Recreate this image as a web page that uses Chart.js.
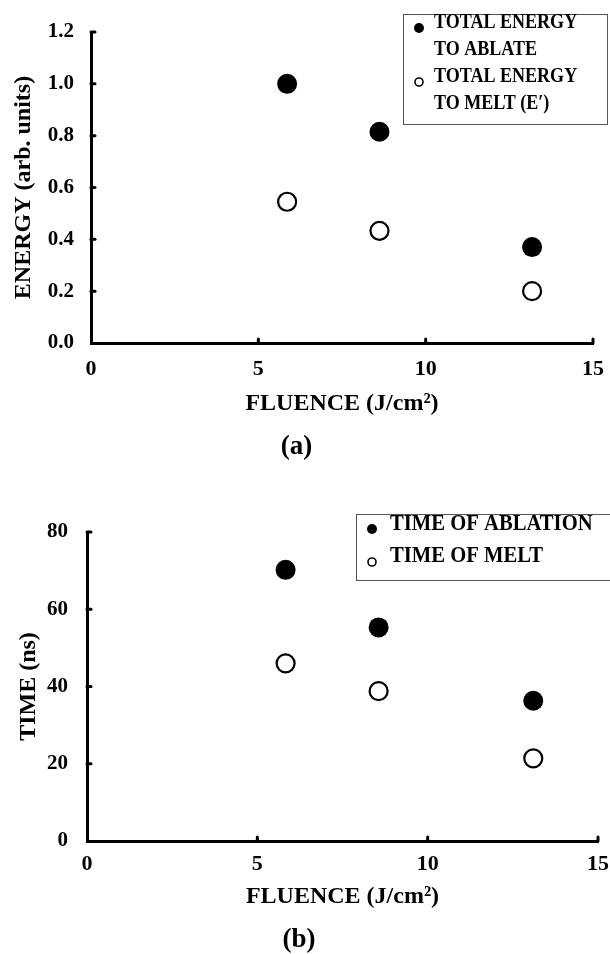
<!DOCTYPE html>
<html><head><meta charset="utf-8">
<script src="https://cdn.jsdelivr.net/npm/chart.js@4/dist/chart.umd.min.js"></script>
<style>
html,body{margin:0;padding:0;background:#fff;}
#wrap{position:relative;width:610px;height:954px;overflow:hidden;background:#fff;}
.c{position:absolute;left:0;}
</style></head><body>
<div id="wrap">
  <div class="c" style="top:0;width:610px;height:470px"><canvas id="ca"></canvas></div>
  <div class="c" style="top:470px;width:610px;height:484px"><canvas id="cb"></canvas></div>
</div>
<script>
// ---- data ----
const fluenceA = [5.86, 8.62, 13.18];
const energyAblate = [1.00, 0.815, 0.37];
const energyMelt = [0.545, 0.433, 0.20];
const fluenceB = [5.83, 8.56, 13.1];
const timeAblation = [70.2, 55.3, 36.3];
const timeMelt = [46.0, 38.8, 21.4];
const xTickValues = [0, 5, 10, 15];
const yTickValuesA = [0, 0.2, 0.4, 0.6, 0.8, 1.0, 1.2];
const yTickValuesB = [0, 20, 40, 60, 80];
const seriesLabelsA = ['TOTAL ENERGY\nTO ABLATE', 'TOTAL ENERGY\nTO MELT (E\u2032)'];
const seriesLabelsB = ['TIME OF ABLATION', 'TIME OF MELT'];
const xTitle = 'FLUENCE (J/cm\u00B2)';
const yTitleA = 'ENERGY (arb. units)';
const yTitleB = 'TIME (ns)';
const captionA = '(a)';
const captionB = '(b)';

const FONT = "'Liberation Serif', 'Times New Roman', serif";
Chart.defaults.font.family = FONT;
Chart.defaults.color = '#000';

function pts(xs, ys) { return xs.map((x, i) => ({x: x, y: ys[i]})); }

const filledStyle = {pointStyle: 'circle', pointRadius: 10, pointBackgroundColor: '#000', pointBorderColor: '#000', pointBorderWidth: 0, showLine: false};
const openStyle = {pointStyle: 'circle', pointRadius: 9, pointBackgroundColor: '#fff', pointBorderColor: '#000', pointBorderWidth: 2.2, showLine: false};

// inner tick marks drawn at the library's tick positions
const innerTicks = {
  id: 'innerTicks',
  afterDatasetsDraw(chart) {
    const ctx = chart.ctx, x = chart.scales.x, y = chart.scales.y, a = chart.chartArea;
    ctx.save();
    ctx.strokeStyle = '#000'; ctx.lineWidth = 3; ctx.lineCap = 'round';
    x.ticks.forEach(t => {
      const px = x.getPixelForValue(t.value);
      if (Math.abs(px - a.left) < 2) return;
      ctx.beginPath(); ctx.moveTo(px, a.bottom); ctx.lineTo(px, a.bottom - 4); ctx.stroke();
    });
    y.ticks.forEach(t => {
      const py = y.getPixelForValue(t.value);
      if (Math.abs(py - a.bottom) < 2) return;
      ctx.beginPath(); ctx.moveTo(a.left, py); ctx.lineTo(a.left + 4, py); ctx.stroke();
    });
    ctx.restore();
  }
};

const boxLegend = {
  id: 'boxLegend',
  afterDraw(chart, args, o) {
    if (!o || !o.items) return;
    const ctx = chart.ctx;
    ctx.save();
    ctx.fillStyle = '#fff';
    ctx.fillRect(o.left, o.top, o.right - o.left, o.bottom - o.top);
    ctx.strokeStyle = '#555'; ctx.lineWidth = 1;
    ctx.strokeRect(o.left + 0.5, o.top + 0.5, o.right - o.left, o.bottom - o.top);
    ctx.textBaseline = 'middle'; ctx.textAlign = 'left';
    ctx.font = 'bold ' + o.fontSize + 'px ' + FONT;
    o.items.forEach((it, i) => {
      const ds = chart.data.datasets[i];
      ctx.beginPath();
      ctx.arc(o.markerX, it.markerY, it.r, 0, Math.PI * 2);
      ctx.fillStyle = ds.pointBackgroundColor; ctx.fill();
      if (ds.pointBorderWidth) { ctx.lineWidth = it.bw; ctx.strokeStyle = ds.pointBorderColor; ctx.stroke(); }
      ctx.fillStyle = '#000';
      String(ds.label).split('\n').forEach((line, j) => {
        ctx.save();
        ctx.translate(o.textX, it.textY + j * o.lineHeight);
        ctx.scale(o.condense, 1);
        ctx.fillText(line, 0, 0);
        ctx.restore();
      });
    });
    ctx.restore();
  }
};

function axisX(cfg) {
  return {
    type: 'linear', position: 'bottom', min: 0, max: 15,
    afterBuildTicks: s => { s.ticks = xTickValues.map(v => ({value: v})); },
    ticks: {font: {size: 22, weight: 'bold'}, color: '#000', padding: cfg.tickPad, maxRotation: 0, autoSkip: false},
    grid: {display: false, drawTicks: false},
    border: {display: true, width: 3, color: '#000'},
    title: {display: true, text: xTitle, color: '#000', font: {size: 24, weight: 'bold'}, padding: {top: 0, bottom: 0}},
    afterFit: s => { s.height = cfg.height; s.paddingLeft = 0; s.paddingRight = 0; }
  };
}
function axisY(cfg) {
  return {
    type: 'linear', position: 'left', min: cfg.min, max: cfg.max,
    afterBuildTicks: s => { s.ticks = cfg.ticks.map(v => ({value: v})); },
    ticks: {font: {size: 21, weight: 'bold'}, color: '#000', padding: cfg.tickPad, callback: cfg.fmt},
    grid: {display: false, drawTicks: false},
    border: {display: true, width: 3, color: '#000'},
    title: {display: true, text: cfg.title, color: '#000', font: {size: cfg.titleSize, weight: 'bold'}, padding: {top: cfg.titlePad, bottom: 0}},
    afterFit: s => { s.width = cfg.width; s.paddingTop = 0; s.paddingBottom = 0; }
  };
}

new Chart(document.getElementById('ca'), {
  type: 'scatter',
  data: {datasets: [
    Object.assign({label: seriesLabelsA[0], data: pts(fluenceA, energyAblate)}, filledStyle),
    Object.assign({label: seriesLabelsA[1], data: pts(fluenceA, energyMelt)}, openStyle)
  ]},
  options: {
    responsive: true, maintainAspectRatio: false, animation: false, devicePixelRatio: 1,
    layout: {padding: {left: 0, right: 17, top: 32, bottom: 0}},
    scales: {
      x: axisX({tickPad: 13, height: 75}),
      y: axisY({min: 0, max: 1.2, ticks: yTickValuesA, tickPad: 17, width: 91, title: yTitleA, titleSize: 24, titlePad: 9,
                fmt: v => Number(v).toFixed(1)})
    },
    plugins: {
      legend: {display: false}, tooltip: {enabled: false},
      title: {display: true, text: captionA, position: 'bottom', color: '#000',
              font: {size: 27, weight: 'bold', lineHeight: 1}, padding: {top: 15.5, bottom: 9.5}},
      boxLegend: {left: 403, top: 14, right: 607, bottom: 124, fontSize: 22, condense: 0.82, lineHeight: 27, textX: 434, markerX: 419,
                  items: [{textY: 22, markerY: 28, r: 5, bw: 0}, {textY: 76, markerY: 82, r: 4, bw: 1.6}]}
    }
  },
  plugins: [innerTicks, boxLegend]
});

new Chart(document.getElementById('cb'), {
  type: 'scatter',
  data: {datasets: [
    Object.assign({label: seriesLabelsB[0], data: pts(fluenceB, timeAblation)}, filledStyle),
    Object.assign({label: seriesLabelsB[1], data: pts(fluenceB, timeMelt)}, openStyle)
  ]},
  options: {
    responsive: true, maintainAspectRatio: false, animation: false, devicePixelRatio: 1,
    layout: {padding: {left: 0, right: 12, top: 62, bottom: 0}},
    scales: {
      x: axisX({tickPad: 10, height: 70}),
      y: axisY({min: 0, max: 80, ticks: yTickValuesB, tickPad: 19, width: 87, title: yTitleB, titleSize: 24, titlePad: 14,
                fmt: v => String(v)})
    },
    plugins: {
      legend: {display: false}, tooltip: {enabled: false},
      title: {display: true, text: captionB, position: 'bottom', color: '#000',
              font: {size: 27, weight: 'bold', lineHeight: 1}, padding: {top: 16, bottom: 0}},
      boxLegend: {left: 356, top: 44, right: 615, bottom: 110, fontSize: 24, condense: 0.86, lineHeight: 32, textX: 390, markerX: 372,
                  items: [{textY: 54, markerY: 59, r: 5, bw: 0}, {textY: 86, markerY: 92, r: 4, bw: 1.6}]}
    }
  },
  plugins: [innerTicks, boxLegend]
});
</script>
</body></html>
